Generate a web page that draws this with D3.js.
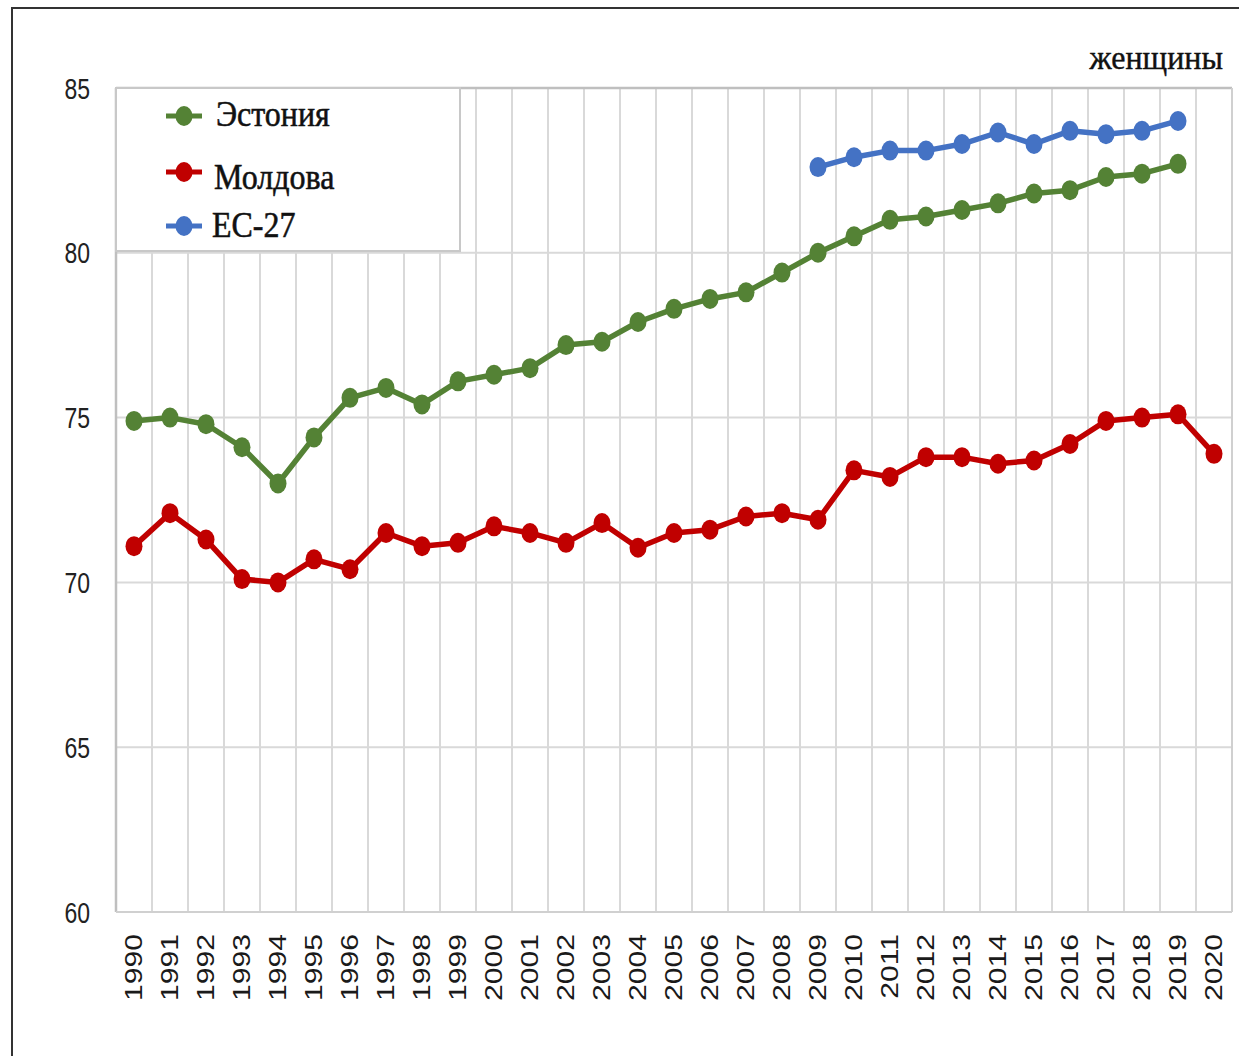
<!DOCTYPE html>
<html><head><meta charset="utf-8">
<script src="https://cdn.jsdelivr.net/npm/d3@7"></script>
<style>body{margin:0;background:#fff}</style>
</head><body>
<svg id="c" width="1239" height="1056"></svg>
<script>
const years = d3.range(1990, 2021).map(String);
const estonia = [74.9,75.0,74.8,74.1,73.0,74.4,75.6,75.9,75.4,76.1,76.3,76.5,77.2,77.3,77.9,78.3,78.6,78.8,79.4,80.0,80.5,81.0,81.1,81.3,81.5,81.8,81.9,82.3,82.4,82.7,null];
const moldova = [71.1,72.1,71.3,70.1,70.0,70.7,70.4,71.5,71.1,71.2,71.7,71.5,71.2,71.8,71.05,71.5,71.6,72.0,72.1,71.9,73.4,73.2,73.8,73.8,73.6,73.7,74.2,74.9,75.0,75.1,73.9];
const eu27 = [null,null,null,null,null,null,null,null,null,null,null,null,null,null,null,null,null,null,null,82.6,82.9,83.1,83.1,83.3,83.65,83.3,83.7,83.6,83.7,84.0,null];
const yTicks = [60,65,70,75,80,85];
const seriesNames = ["Эстония","Молдова","ЕС-27"];
const seriesColors = ["#548235","#c00000","#4472c4"];
const subtitle = "женщины";

const svg = d3.select("#c");
const L=116, R=1232, T=88, B=912;
const x = d3.scaleBand().domain(years).range([L,R]);
const y = d3.scaleLinear().domain([60,85]).range([B,T]);

// outer frame
svg.append("rect").attr("x",12).attr("y",8).attr("width",1260).attr("height",1100)
  .attr("fill","none").attr("stroke","#333").attr("stroke-width",2);

// grid
const g = svg.append("g");
g.selectAll(".hg").data(yTicks).join("line")
  .attr("x1",L).attr("x2",R).attr("y1",d=>y(d)).attr("y2",d=>y(d))
  .attr("stroke","#d9d9d9").attr("stroke-width",2);
const bounds = years.slice(1).map(d=>x(d));
g.selectAll(".vg").data(bounds).join("line")
  .attr("x1",d=>d).attr("x2",d=>d).attr("y1",T).attr("y2",B)
  .attr("stroke","#d9d9d9").attr("stroke-width",2);
// plot border
g.append("line").attr("x1",L).attr("x2",L).attr("y1",T).attr("y2",B).attr("stroke","#bfbfbf").attr("stroke-width",2.5);
g.append("line").attr("x1",L).attr("x2",R).attr("y1",T).attr("y2",T).attr("stroke","#bfbfbf").attr("stroke-width",2.5);
g.append("line").attr("x1",R).attr("x2",R).attr("y1",T).attr("y2",B).attr("stroke","#d0d0d0").attr("stroke-width",2);
g.append("line").attr("x1",L).attr("x2",R).attr("y1",B).attr("y2",B).attr("stroke","#d0d0d0").attr("stroke-width",2);

// y axis labels
const yAxis = d3.axisLeft(y).tickValues(yTicks).tickSize(0).tickPadding(0);
const ya = svg.append("g").attr("transform",`translate(${L-26},0)`).call(yAxis);
ya.select(".domain").remove();
ya.selectAll("text").attr("font-family","Liberation Sans, Arial, sans-serif").attr("font-size",23)
  .attr("fill","#222").attr("x",0).attr("dy",null).attr("dominant-baseline","central")
  .attr("transform","scale(1,1.3)");

// x axis labels
const xAxis = d3.axisBottom(x).tickSize(0).tickPadding(0);
const xa = svg.append("g").attr("transform",`translate(0,${B})`).call(xAxis);
xa.select(".domain").remove();
xa.selectAll("text").attr("font-family","Liberation Sans, Arial, sans-serif").attr("font-size",23.5)
  .attr("fill","#1a1a1a").attr("y",0).attr("dy",null).attr("text-anchor","end").attr("dominant-baseline","central")
  .attr("transform","translate(0,22) rotate(-90) scale(1.28,1)");

// series
const data = [estonia, moldova, eu27];
const line = d3.line().defined(d=>d.v!=null).x(d=>x(d.k)+x.bandwidth()/2).y(d=>y(d.v));
data.forEach((arr,i)=>{
  const pts = years.map((k,j)=>({k,v:arr[j]}));
  svg.append("path").datum(pts).attr("d",line).attr("fill","none")
    .attr("stroke",seriesColors[i]).attr("stroke-width",5.5).attr("stroke-linejoin","round");
  svg.append("g").selectAll("ellipse").data(pts.filter(d=>d.v!=null)).join("ellipse")
    .attr("cx",d=>x(d.k)+x.bandwidth()/2).attr("cy",d=>y(d.v)).attr("rx",8.5).attr("ry",10)
    .attr("fill",seriesColors[i]);
});

// legend
const lg = svg.append("g");
lg.append("rect").attr("x",L).attr("y",T).attr("width",344).attr("height",163)
  .attr("fill","#fff").attr("stroke","#c8c8c8").attr("stroke-width",2);
const ly = [116,172,226];
const lx = [216,214,212];
const lyText = [114,177,225];
seriesNames.forEach((n,i)=>{
  lg.append("line").attr("x1",166).attr("x2",202).attr("y1",ly[i]).attr("y2",ly[i])
    .attr("stroke",seriesColors[i]).attr("stroke-width",5);
  lg.append("ellipse").attr("cx",184).attr("cy",ly[i]).attr("rx",8.5).attr("ry",10).attr("fill",seriesColors[i]);
  lg.append("text").attr("x",lx[i]).attr("y",0).attr("font-family","Liberation Serif, Times New Roman, serif")
    .attr("font-size",32).attr("fill","#111").attr("dominant-baseline","central")
    .attr("stroke","#111").attr("stroke-width",0.5)
    .attr("transform",`translate(0,${lyText[i]}) scale(1,1.1)`)
    .text(n);
});

// subtitle
svg.append("text").attr("x",1223).attr("y",0).attr("text-anchor","end")
  .attr("font-family","Liberation Serif, Times New Roman, serif").attr("font-size",32).attr("fill","#111")
  .attr("stroke","#111").attr("stroke-width",0.4)
  .attr("dominant-baseline","central")
  .attr("transform","translate(0,57) scale(1,1.08)")
  .text(subtitle);
</script>
</body></html>
